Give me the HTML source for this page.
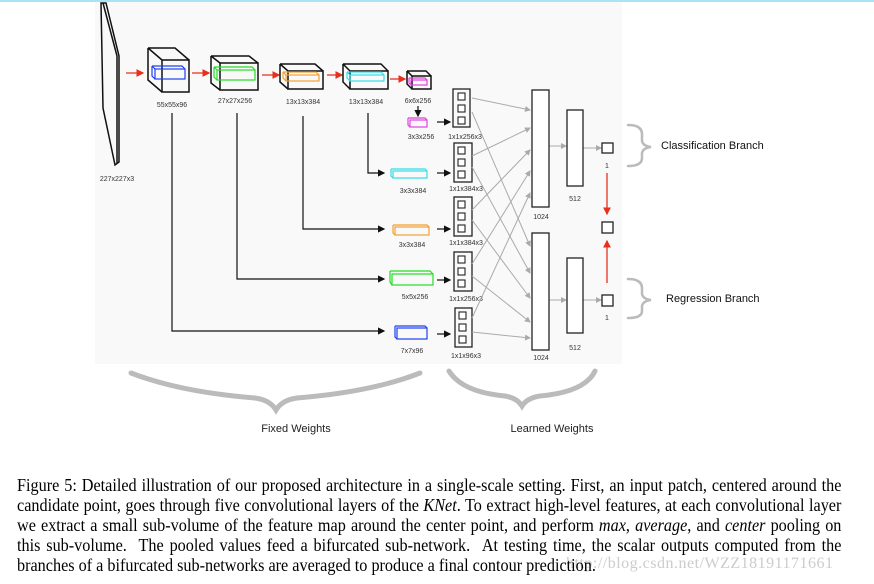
<!DOCTYPE html>
<html><head><meta charset="utf-8"><style>
body{margin:0;width:874px;height:584px;background:#fff;position:relative;overflow:hidden}
.topbar{position:absolute;left:0;top:0;width:874px;height:2px;background:#a8e4f5}
.cap{position:absolute;left:17px;width:916px;font-family:"Liberation Serif",serif;font-size:18px;line-height:20px;color:#000;white-space:nowrap;transform:scaleX(0.9);transform-origin:0 0}
.j{text-align:justify;text-align-last:justify}
.wm{position:absolute;left:566px;top:555px;font-family:"Liberation Serif",serif;font-size:16px;color:#ccc;letter-spacing:0.5px}
</style></head><body>
<svg width="874" height="470" style="position:absolute;left:0;top:0" font-family="Liberation Sans, sans-serif">
<defs>
<marker id="r" markerWidth="6" markerHeight="6" refX="5" refY="3" orient="auto"><path d="M0,0 L6,3 L0,6z" fill="#e8301c"/></marker>
<marker id="k" markerWidth="6" markerHeight="6" refX="5" refY="3" orient="auto"><path d="M0,0 L6,3 L0,6z" fill="#111"/></marker>
<marker id="g" markerWidth="6" markerHeight="6" refX="5" refY="3" orient="auto"><path d="M0,0 L6,3 L0,6z" fill="#aaa"/></marker>
</defs>
<rect x="95" y="2" width="527" height="362" fill="#f9f9f9"/>
<g fill="none" stroke="#111" stroke-width="1.5">
<path d="M101,3 L103,108 L115,165 L119,162 L119,56 L106,3 Z"/>
<path d="M103,3 L117,56 L117,163"/>
</g>
<text x="117" y="181" font-size="7" text-anchor="middle" fill="#333">227x227x3</text>
<g stroke="#e8301c" stroke-width="1.3" marker-end="url(#r)">
<line x1="126" y1="73" x2="143" y2="73"/><line x1="192" y1="73" x2="209" y2="73"/>
<line x1="262" y1="75" x2="279" y2="75"/><line x1="327" y1="75" x2="342" y2="75"/>
<line x1="390" y1="79" x2="405" y2="79"/>
</g>
<g fill="none" stroke="#111" stroke-width="1.5">
<path d="M148,48 L175,48 L189,60 M148,48 L148,80 L162,92 M148,48 L162,60"/><rect x="162" y="60" width="27" height="32"/>
<path d="M211,56 L249,56 L258,63 M211,56 L211,83 L220,90 M211,56 L220,63"/><rect x="220" y="63" width="38" height="27"/>
<path d="M280,64 L315,64 L323,71 M280,64 L280,82 L288,89 M280,64 L288,71"/><rect x="288" y="71" width="35" height="18"/>
<path d="M343,64 L381,64 L388,71 M343,64 L343,82 L350,89 M343,64 L350,71"/><rect x="350" y="71" width="38" height="18"/>
<path d="M407,71 L426,71 L431,76 M407,71 L407,84 L412,89 M407,71 L412,76"/><rect x="412" y="76" width="19" height="13"/>
</g>
<g fill="none" stroke-width="1.2">
<g stroke="#2040f0"><rect x="155" y="69" width="30" height="10"/><path d="M152,66 L182,66 L185,69 M152,66 L152,76 L155,79 M152,66 L155,69"/></g>
<g stroke="#22dd22"><rect x="217" y="70" width="38" height="10"/><path d="M214,67 L252,67 L255,70 M214,67 L214,77 L217,80 M214,67 L217,70"/></g>
<g stroke="#f0a030"><rect x="286" y="75" width="33" height="6"/><path d="M283,72 L316,72 L319,75 M283,72 L283,78 L286,81 M283,72 L286,75"/></g>
<g stroke="#33dde8"><rect x="350" y="75" width="34" height="6"/><path d="M347,72 L381,72 L384,75 M347,72 L347,78 L350,81 M347,72 L350,75"/></g>
<g stroke="#e040e0"><rect x="411" y="80" width="16" height="5"/><path d="M409,78 L425,78 L427,80 M409,78 L409,83 L411,85"/></g>
<g stroke="#e040e0"><rect x="410" y="120" width="17" height="7"/><path d="M408,118 L425,118 L427,120 M408,118 L408,125 L410,127"/></g>
<g stroke="#33dde8"><rect x="393" y="171" width="34" height="7"/><path d="M391,169 L425,169 L427,171 M391,169 L391,176 L393,178"/></g>
<g stroke="#f0a030"><rect x="395" y="227" width="34" height="8"/><path d="M393,225 L427,225 L429,227 M393,225 L393,233 L395,235"/></g>
<g stroke="#22dd22"><rect x="392" y="274" width="41" height="11"/><path d="M390,271 L430,271 L433,274 M390,271 L390,282 L392,285"/></g>
<g stroke="#2040f0"><rect x="397" y="328" width="30" height="11"/><path d="M395,326 L425,326 L427,328 M395,326 L395,337 L397,339"/></g>
</g>
<g font-size="7" fill="#333" text-anchor="middle">
<text x="172" y="107">55x55x96</text><text x="235" y="103">27x27x256</text><text x="303" y="104">13x13x384</text>
<text x="366" y="104">13x13x384</text><text x="418" y="103">6x6x256</text>
<text x="421" y="139">3x3x256</text><text x="413" y="193">3x3x384</text><text x="412" y="247">3x3x384</text>
<text x="415" y="299">5x5x256</text><text x="412" y="353">7x7x96</text>
<text x="465" y="139">1x1x256x3</text><text x="466" y="191">1x1x384x3</text><text x="466" y="245">1x1x384x3</text>
<text x="466" y="301">1x1x256x3</text><text x="466" y="358">1x1x96x3</text>
<text x="541" y="219">1024</text><text x="541" y="360">1024</text><text x="575" y="201">512</text><text x="575" y="350">512</text>
<text x="607" y="168">1</text><text x="607" y="320">1</text>
</g>
<g fill="none" stroke="#111" stroke-width="1.2" marker-end="url(#k)">
<line x1="418" y1="106" x2="418" y2="116"/>
<path d="M368,113 L368,173 L384,173"/><path d="M303,116 L303,229 L384,229"/>
<path d="M237,113 L237,279 L384,279"/><path d="M172,113 L172,331 L384,331"/>
<line x1="437" y1="122" x2="450" y2="122"/><line x1="437" y1="173" x2="450" y2="173"/>
<line x1="437" y1="229" x2="450" y2="229"/><line x1="437" y1="280" x2="450" y2="280"/>
<line x1="437" y1="334" x2="450" y2="334"/>
</g>
<g fill="none" stroke="#222" stroke-width="1.3">
<rect x="453" y="89" width="17" height="38"/><rect x="454" y="143" width="18" height="39"/>
<rect x="454" y="197" width="18" height="39"/><rect x="454" y="252" width="18" height="39"/><rect x="455" y="308" width="17" height="39"/>
</g>
<g fill="#fff" stroke="#222" stroke-width="1.1">
<g id="cb"><rect x="458" y="93" width="7" height="7"/><rect x="458" y="105" width="7" height="7"/><rect x="458" y="117" width="7" height="7"/></g>
<use href="#cb" y="54"/><use href="#cb" y="108"/><use href="#cb" y="163"/><use href="#cb" y="219" x="1"/>
</g>
<g stroke="#aaa" stroke-width="1" marker-end="url(#g)">
<line x1="472" y1="98" x2="530" y2="110"/><line x1="472" y1="112" x2="530" y2="246"/>
<line x1="472" y1="156" x2="530" y2="128"/><line x1="472" y1="167" x2="530" y2="273"/>
<line x1="472" y1="210" x2="530" y2="150"/><line x1="472" y1="220" x2="530" y2="298"/>
<line x1="472" y1="264" x2="530" y2="171"/><line x1="472" y1="276" x2="530" y2="322"/>
<line x1="472" y1="318" x2="530" y2="193"/><line x1="472" y1="332" x2="530" y2="338"/>
<line x1="549" y1="146" x2="566" y2="146"/><line x1="583" y1="148" x2="601" y2="148"/>
<line x1="549" y1="300" x2="566" y2="300"/><line x1="583" y1="300" x2="601" y2="300"/>
</g>
<g fill="#fff" stroke="#222" stroke-width="1.3">
<rect x="532" y="90" width="17" height="117"/><rect x="532" y="233" width="17" height="117"/>
<rect x="567" y="110" width="16" height="76"/><rect x="567" y="258" width="16" height="75"/>
<rect x="602" y="143" width="11" height="10"/><rect x="602" y="222" width="11" height="11"/><rect x="602" y="295" width="11" height="11"/>
</g>
<g stroke="#e8301c" stroke-width="1.3" marker-end="url(#r)">
<line x1="607" y1="173" x2="607" y2="214"/><line x1="607" y1="283" x2="607" y2="241"/>
</g>
<g fill="none" stroke="#bbb" stroke-width="2.5" stroke-linecap="round">
<path d="M628,125 Q642,125 642,134 L642,141 Q643,146 651,147 Q643,148 642,153 L642,158 Q642,166 628,166"/>
<path d="M628,279 Q642,279 642,288 L642,294 Q643,299 651,300 Q643,301 642,306 L642,311 Q642,318 628,318"/>
</g>
<text x="661" y="149" font-size="11" fill="#111">Classification Branch</text>
<text x="666" y="302" font-size="11" fill="#111">Regression Branch</text>
<g fill="none" stroke="#bbb" stroke-width="5" stroke-linecap="round">
<path d="M131,373 Q180,392 255,398 Q270,400 276,410 Q282,400 297,398 Q372,392 420,373"/>
<path d="M449,371 Q462,392 505,396 Q517,398 522,406 Q527,398 540,396 Q585,392 595,371"/>
</g>
<text x="296" y="432" font-size="11" fill="#222" text-anchor="middle">Fixed Weights</text>
<text x="552" y="432" font-size="11" fill="#222" text-anchor="middle">Learned Weights</text>
</svg>
<div class="topbar"></div>
<div class="cap j" style="top:475px">Figure 5: Detailed illustration of our proposed architecture in a single-scale setting. First, an input patch, centered around the</div>
<div class="cap j" style="top:495px">candidate point, goes through five convolutional layers of the <i>KNet</i>. To extract high-level features, at each convolutional layer</div>
<div class="cap j" style="top:515px">we extract a small sub-volume of the feature map around the center point, and perform <i>max</i>, <i>average</i>, and <i>center</i> pooling on</div>
<div class="cap j" style="top:535px">this sub-volume. &nbsp;The pooled values feed a bifurcated sub-network. &nbsp;At testing time, the scalar outputs computed from the</div>
<div class="wm">http://blog.csdn.net/WZZ18191171661</div>
<div class="cap" style="top:555px">branches of a bifurcated sub-networks are averaged to produce a final contour prediction.</div>
</body></html>
